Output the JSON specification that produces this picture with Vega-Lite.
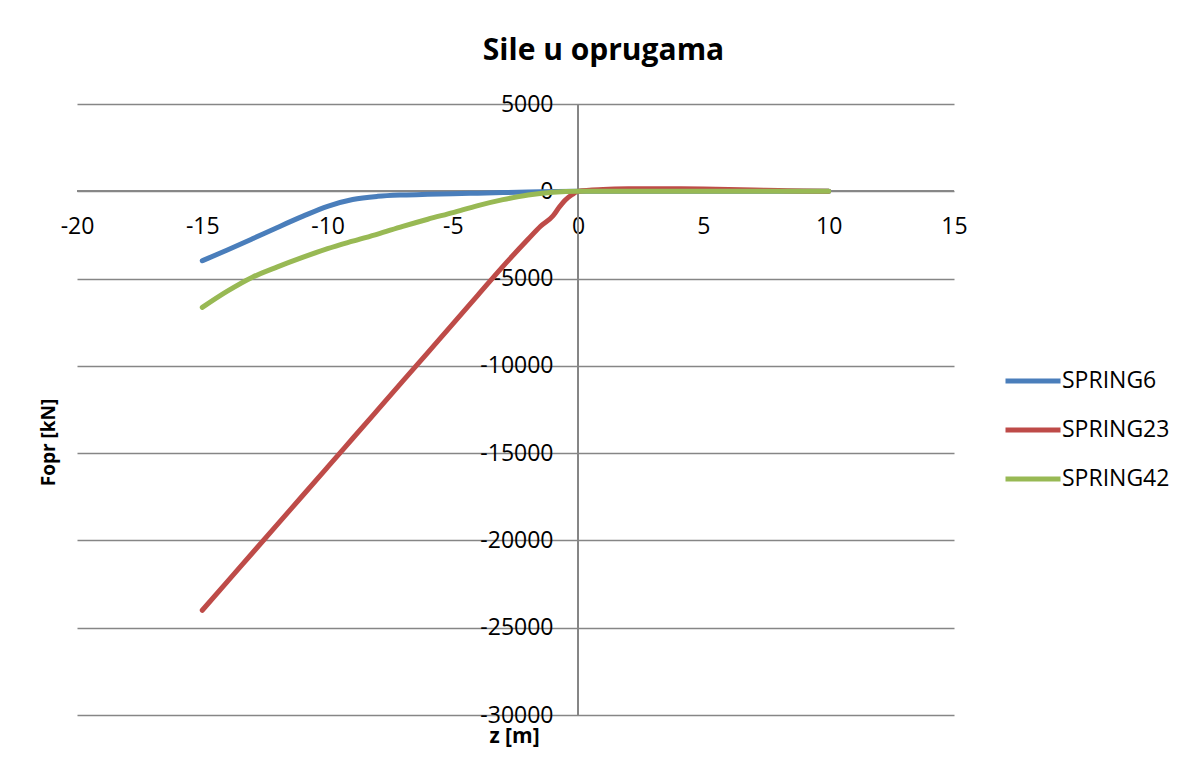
{
  "$schema": "https://vega.github.io/schema/vega-lite/v6.json",
  "autosize": {"type": "none"},
  "width": 877,
  "height": 611,
  "padding": {"left": 77, "top": 104, "right": 238, "bottom": 65},
  "background": "white",
  "config": {
    "view": {"stroke": null},
    "font": "Open Sans",
    "axis": {"labelFont": "Open Sans", "titleFont": "Open Sans", "labelColor": "#000000", "titleColor": "#000000"}
  },
  "title": {
    "text": "Sile u oprugama",
    "font": "Open Sans",
    "fontSize": 30,
    "fontWeight": "bold",
    "color": "#000000",
    "anchor": "middle",
    "frame": "group",
    "dx": 88,
    "offset": 27
  },
  "data": {
    "values": [
      {"z": -15, "F": -3980, "s": "SPRING6"},
      {"z": -14, "F": -3360, "s": "SPRING6"},
      {"z": -13, "F": -2720, "s": "SPRING6"},
      {"z": -12, "F": -2070, "s": "SPRING6"},
      {"z": -11, "F": -1440, "s": "SPRING6"},
      {"z": -10, "F": -860, "s": "SPRING6"},
      {"z": -9, "F": -470, "s": "SPRING6"},
      {"z": -8, "F": -290, "s": "SPRING6"},
      {"z": -7, "F": -210, "s": "SPRING6"},
      {"z": -6, "F": -170, "s": "SPRING6"},
      {"z": -5, "F": -140, "s": "SPRING6"},
      {"z": -4, "F": -110, "s": "SPRING6"},
      {"z": -3, "F": -75, "s": "SPRING6"},
      {"z": -2, "F": -40, "s": "SPRING6"},
      {"z": -1, "F": -15, "s": "SPRING6"},
      {"z": 0, "F": 0, "s": "SPRING6"},
      {"z": 2, "F": 0, "s": "SPRING6"},
      {"z": 4, "F": 0, "s": "SPRING6"},
      {"z": 6, "F": 0, "s": "SPRING6"},
      {"z": 8, "F": 0, "s": "SPRING6"},
      {"z": 10, "F": 0, "s": "SPRING6"},
      {"z": -15, "F": -24000, "s": "SPRING23"},
      {"z": -14, "F": -22360, "s": "SPRING23"},
      {"z": -13, "F": -20720, "s": "SPRING23"},
      {"z": -12, "F": -19080, "s": "SPRING23"},
      {"z": -11, "F": -17440, "s": "SPRING23"},
      {"z": -10, "F": -15800, "s": "SPRING23"},
      {"z": -9, "F": -14160, "s": "SPRING23"},
      {"z": -8, "F": -12520, "s": "SPRING23"},
      {"z": -7, "F": -10880, "s": "SPRING23"},
      {"z": -6, "F": -9240, "s": "SPRING23"},
      {"z": -5, "F": -7600, "s": "SPRING23"},
      {"z": -4, "F": -5950, "s": "SPRING23"},
      {"z": -3, "F": -4300, "s": "SPRING23"},
      {"z": -2, "F": -2750, "s": "SPRING23"},
      {"z": -1.5, "F": -2000, "s": "SPRING23"},
      {"z": -1, "F": -1400, "s": "SPRING23"},
      {"z": -0.75, "F": -900, "s": "SPRING23"},
      {"z": -0.5, "F": -480, "s": "SPRING23"},
      {"z": -0.25, "F": -200, "s": "SPRING23"},
      {"z": 0, "F": 0, "s": "SPRING23"},
      {"z": 1, "F": 100, "s": "SPRING23"},
      {"z": 2, "F": 140, "s": "SPRING23"},
      {"z": 3, "F": 150, "s": "SPRING23"},
      {"z": 4, "F": 145, "s": "SPRING23"},
      {"z": 5, "F": 125, "s": "SPRING23"},
      {"z": 6, "F": 100, "s": "SPRING23"},
      {"z": 7, "F": 70, "s": "SPRING23"},
      {"z": 8, "F": 40, "s": "SPRING23"},
      {"z": 9, "F": 15, "s": "SPRING23"},
      {"z": 10, "F": 0, "s": "SPRING23"},
      {"z": -15, "F": -6650, "s": "SPRING42"},
      {"z": -14, "F": -5720, "s": "SPRING42"},
      {"z": -13, "F": -4920, "s": "SPRING42"},
      {"z": -12, "F": -4330, "s": "SPRING42"},
      {"z": -11, "F": -3790, "s": "SPRING42"},
      {"z": -10, "F": -3290, "s": "SPRING42"},
      {"z": -9, "F": -2860, "s": "SPRING42"},
      {"z": -8, "F": -2450, "s": "SPRING42"},
      {"z": -7, "F": -2010, "s": "SPRING42"},
      {"z": -6, "F": -1600, "s": "SPRING42"},
      {"z": -5, "F": -1220, "s": "SPRING42"},
      {"z": -4, "F": -820, "s": "SPRING42"},
      {"z": -3, "F": -480, "s": "SPRING42"},
      {"z": -2, "F": -210, "s": "SPRING42"},
      {"z": -1, "F": -55, "s": "SPRING42"},
      {"z": 0, "F": 0, "s": "SPRING42"},
      {"z": 2, "F": 0, "s": "SPRING42"},
      {"z": 4, "F": 0, "s": "SPRING42"},
      {"z": 6, "F": 0, "s": "SPRING42"},
      {"z": 8, "F": 0, "s": "SPRING42"},
      {"z": 10, "F": 0, "s": "SPRING42"}
    ]
  },
  "layer": [
    {
      "mark": {"type": "rule", "color": "#868686", "strokeWidth": 1.3},
      "encoding": {"x": {"datum": 0, "type": "quantitative"}}
    },
    {
      "mark": {"type": "rule", "color": "#868686", "strokeWidth": 1.3},
      "encoding": {"y": {"datum": 0, "type": "quantitative"}}
    },
    {
      "mark": {"type": "line", "interpolate": "monotone", "strokeWidth": 5, "strokeCap": "round", "strokeJoin": "round"},
      "encoding": {
        "x": {
          "field": "z",
          "type": "quantitative",
          "scale": {"domain": [-20, 15], "nice": false, "zero": false},
          "axis": {
            "orient": "bottom",
            "offset": -524,
            "values": [-20, -15, -10, -5, 0, 5, 10, 15],
            "labelExpr": "'' + datum.value",
            "grid": false,
            "domain": false,
            "ticks": false,
            "tickSize": 0,
            "labelFontSize": 23,
            "labelPadding": 24,
            "labelFlush": false,
            "labelOverlap": false,
            "title": "z [m]",
            "titleFontSize": 21,
            "titleFontWeight": "bold",
            "titleY": 545,
            "titleBaseline": "middle",
            "titleX": 437
          }
        },
        "y": {
          "field": "F",
          "type": "quantitative",
          "scale": {"domain": [-30000, 5000], "nice": false, "zero": false},
          "axis": {
            "orient": "left",
            "offset": -501,
            "values": [-30000, -25000, -20000, -15000, -10000, -5000, 0, 5000],
            "labelExpr": "'' + datum.value",
            "grid": true,
            "gridColor": "#868686",
            "gridWidth": 1.3,
            "gridOpacity": 1,
            "domain": false,
            "ticks": false,
            "tickSize": 0,
            "labelFontSize": 23,
            "labelPadding": 25,
            "labelFlush": false,
            "labelOverlap": false,
            "title": "Fopr [kN]",
            "titleFontSize": 19,
            "titleFontWeight": "bold",
            "titleAngle": -90,
            "titleX": -530,
            "titleY": 338,
            "titleAlign": "center",
            "titleBaseline": "middle"
          }
        },
        "color": {
          "field": "s",
          "type": "nominal",
          "scale": {"domain": ["SPRING6", "SPRING23", "SPRING42"], "range": ["#4A7EBB", "#BE4B48", "#98B954"]},
          "legend": {
            "title": null,
            "orient": "none",
            "legendX": 926,
            "legendY": 265,
            "padding": 0,
            "symbolType": "stroke",
            "symbolSize": 3025,
            "symbolStrokeWidth": 5,
            "clipHeight": 24,
            "rowPadding": 25,
            "labelFont": "Open Sans",
            "labelFontSize": 23,
            "labelColor": "#000000",
            "labelOffset": -1,
            "labelLimit": 300
          }
        }
      }
    }
  ]
}
